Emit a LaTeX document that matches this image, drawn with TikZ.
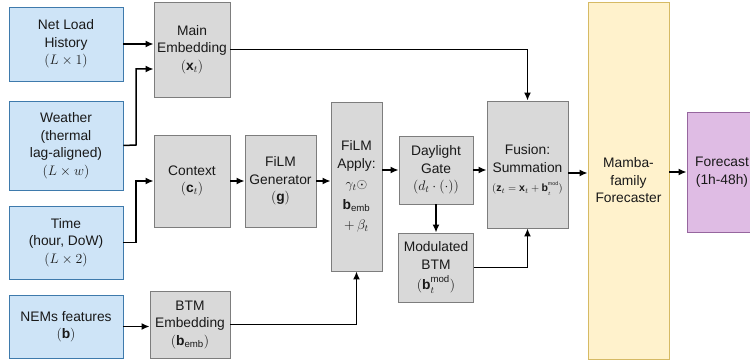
\RequirePackage{fix-cm}
\documentclass[tikz,border=0pt]{standalone}
\usepackage{amsmath}
\usepackage{fontspec}
\setmainfont{Liberation Sans}
\usepackage{tikz}
\usetikzlibrary{positioning,shapes,arrows.meta,calc}

\definecolor{inblue}{RGB}{206,228,247}
\definecolor{inblueline}{RGB}{62,122,172}
\definecolor{blockgray}{RGB}{217,217,217}
\definecolor{blockline}{RGB}{125,125,125}
\definecolor{mambafill}{RGB}{255,242,204}
\definecolor{mambaline}{RGB}{214,186,100}
\definecolor{outfill}{RGB}{223,188,228}
\definecolor{outline}{RGB}{150,102,158}
\definecolor{txt}{RGB}{25,25,25}

\newcommand{\btmmodsmall}[1]{\mathbf{b}_{\lower1pt\hbox{$\scriptscriptstyle #1$}}^{\raisebox{2.5pt}{$\scriptscriptstyle\mathrm{mod}$}}}
\newcommand{\btmmod}[1]{\mathbf{b}_{#1}^{\raisebox{2pt}{$\scriptstyle\mathrm{mod}$}}}

\begin{document}
\begin{tikzpicture}[x=1pt, y=-1pt]
        \tikzset{
            box/.style={draw, line width=0.9pt, align=center, inner sep=0pt,
                text=txt, font=\fontsize{13.8}{17.5}\selectfont},
            input/.style={box, fill=inblue, draw=inblueline, minimum width=114pt},
            block/.style={box, fill=blockgray, draw=blockline},
            link/.style={-{Latex[length=8pt,width=7pt]}, line width=1.5pt},
        }

        \useasboundingbox (0,0) rectangle (750,363);

        % inputs
        \node[input, minimum height=74pt] (hist) at (66,44) {Net Load\\History\\$(L\times 1)$};
        \node[input, minimum height=89pt] (weather) at (66,145.5) {Weather\\(thermal\\lag-aligned)\\$(L\times w)$};
        \node[input, minimum height=73pt] (time) at (66,242.5) {Time\\(hour, DoW)\\$(L\times 2)$};
        \node[input, minimum height=63pt] (nems) at (66,326.5) {NEMs features\\$(\mathbf{b})$};

        % embeddings and FiLM
        \node[block, minimum width=76pt, minimum height=95pt] (mainemb) at (192,49.5) {Main\\Embedding\\$(\mathbf{x}_t)$};
        \node[block, minimum width=76pt, minimum height=92pt] (context) at (192,181) {Context\\$(\mathbf{c}_t)$};
        \node[block, minimum width=80pt, minimum height=67pt] (btmemb) at (190,324.5) {BTM\\Embedding\\$(\mathbf{b}_{\mathrm{emb}})$};
        \node[block, minimum width=71pt, minimum height=92pt] (filmgen) at (280.5,181) {FiLM\\Generator\\$(\mathbf{g})$};
        \node[block, minimum width=51pt, minimum height=169pt] (filmapply) at (356.5,186.5)
            {FiLM\\Apply:\\[3pt]$\gamma_t\odot$\\[3pt]$\mathbf{b}_{\mathrm{emb}}$\\[3pt]$+\,\beta_t$};
        \node[block, minimum width=74pt, minimum height=68pt] (gate) at (436,170) {Daylight\\Gate\\$(d_t\cdot(\cdot))$};
        \node[block, minimum width=75pt, minimum height=69pt] (modbtm) at (436,267.5) {Modulated\\BTM\\[3pt]$(\btmmod{t})$};

        % fusion and forecaster
        \node[block, minimum width=81pt, minimum height=127pt] (fusion) at (527.5,164.5)
            {\\[4pt]Fusion:\\Summation\\[2pt]{\fontsize{10.5}{12}\selectfont$(\mathbf{z}_t=\mathbf{x}_t+\btmmodsmall{t})$}};
        \node[box, fill=mambafill, draw=mambaline, minimum width=81pt, minimum height=357pt] (mamba) at (628.5,180.5)
            {Mamba-\\family\\Forecaster};
        \node[box, fill=outfill, draw=outline, minimum width=70pt, minimum height=120pt] (forecast) at (722,172)
            {Forecast\\(1h-48h)};

        \coordinate (bus) at (136,145);

        \draw[link] (hist.east) -- (hist.east -| mainemb.west);
        \draw[link] (weather.east) -- (bus) |- ([yshift=-19.5pt]mainemb.west);
        \draw[link] (time.east) -| (bus |- context.west) -- (context.west);
        \draw[link] (nems.east) -- (nems.east -| btmemb.west);
        \draw[link] (context.east) -- (context.east -| filmgen.west);
        \draw[link] (filmgen.east) -- (filmgen.east -| filmapply.west);
        \draw[link] (btmemb.east) -| (filmapply.south);
        \draw[link] (filmapply.east |- gate.west) -- (gate.west);
        \draw[link] (gate.south) -- (modbtm.north);
        \draw[link] (gate.east) -- (gate.east -| fusion.west);
        \draw[link] (mainemb.east) -| (fusion.north);
        \draw[link] (modbtm.east) -| (fusion.south);
        \draw[link] ([yshift=-8.5pt]fusion.east) -- ([yshift=-8.5pt]fusion.east -| mamba.west);
        \draw[link] (mamba.east |- forecast.west) -- (forecast.west);
    \end{tikzpicture}
\end{document}
